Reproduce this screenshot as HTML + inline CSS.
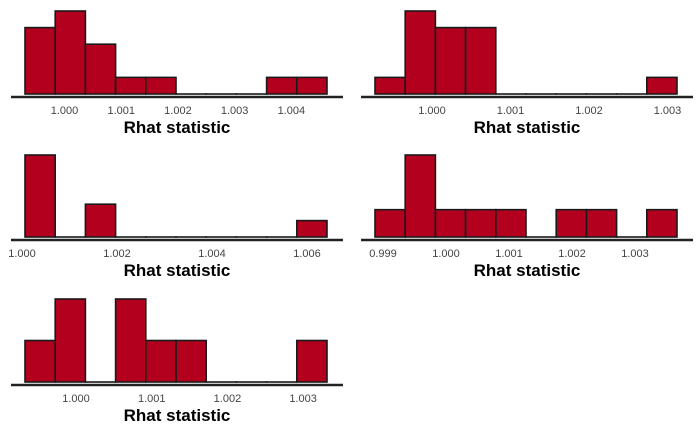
<!DOCTYPE html>
<html><head><meta charset="utf-8">
<style>
body{margin:0;background:#fff;}
svg{display:block;font-family:"Liberation Sans",sans-serif;}
</style></head>
<body>
<svg id="chart" width="700" height="432" viewBox="0 0 700 432"></svg>
<script>
// Per-panel data
const countsP1 = [4,5,3,1,1,0,0,0,1,1];
const countsP2 = [1,5,4,4,0,0,0,0,0,1];
const countsP3 = [5,0,2,0,0,0,0,0,0,1];
const countsP4 = [1,3,1,1,1,0,1,1,0,1];
const countsP5 = [2,4,0,4,2,2,0,0,0,2];
const binRangeP1 = [0.999303, 1.004629];
const binRangeP2 = [0.999274, 1.003121];
const binRangeP3 = [1.000063, 1.006421];
const binRangeP4 = [0.998873, 1.003667];
const binRangeP5 = [0.999326, 1.003315];
const ticksP1 = [1.000,1.001,1.002,1.003,1.004];
const ticksP2 = [1.000,1.001,1.002,1.003];
const ticksP3 = [1.000,1.002,1.004,1.006];
const ticksP4 = [0.999,1.000,1.001,1.002,1.003];
const ticksP5 = [1.000,1.001,1.002,1.003];

const panels = [
  {counts:countsP1, range:binRangeP1, ticks:ticksP1, x0:25, base:94, top:11, ax:[11,343]},
  {counts:countsP2, range:binRangeP2, ticks:ticksP2, x0:375, base:94, top:11, ax:[361,693]},
  {counts:countsP3, range:binRangeP3, ticks:ticksP3, x0:25, base:237, top:155, ax:[11,343]},
  {counts:countsP4, range:binRangeP4, ticks:ticksP4, x0:375, base:237, top:155, ax:[361,693]},
  {counts:countsP5, range:binRangeP5, ticks:ticksP5, x0:25, base:382, top:299, ax:[11,343]}
];
const NS="http://www.w3.org/2000/svg";
const svg=document.getElementById('chart');
function mk(tag,attrs,parent){const e=document.createElementNS(NS,tag);for(const k in attrs)e.setAttribute(k,attrs[k]);(parent||svg).appendChild(e);return e;}
panels.forEach((p,pi)=>{
  const g=mk('g',{});
  
  
  const W=302;
  const xs=v=>p.x0+(v-p.range[0])/(p.range[1]-p.range[0])*W;
  const maxC=Math.max(...p.counts);
  const ys=c=>p.base-c/maxC*(p.base-p.top);
  const n=p.counts.length, bw=(p.range[1]-p.range[0])/n;
  p.counts.forEach((c,i)=>{
    const xa=xs(p.range[0]+i*bw), xb=xs(p.range[0]+(i+1)*bw);
    const r=mk('rect',{x:xa,y:ys(c),width:xb-xa,height:Math.max(p.base-ys(c),0.01),fill:'#b2001e',stroke:'#1a1a1a','stroke-width':1.6},g);
    
    
  });
  const ax=mk('line',{x1:p.ax[0],x2:p.ax[1],y1:p.base+3,y2:p.base+3,stroke:'#222','stroke-width':2.5},g);
  
  
  p.ticks.forEach(t=>{
    const tx=mk('text',{x:xs(t),y:p.base+20,'text-anchor':'middle','font-size':11,fill:'#444'},g);
    tx.textContent=t.toFixed(3);
    
    
  });
  const ti=mk('text',{x:(p.ax[0]+p.ax[1])/2,y:p.base+39,'text-anchor':'middle','font-size':17,'font-weight':'bold',fill:'#000'},g);
  ti.textContent='Rhat statistic';
  
  
});
</script>
</body></html>
